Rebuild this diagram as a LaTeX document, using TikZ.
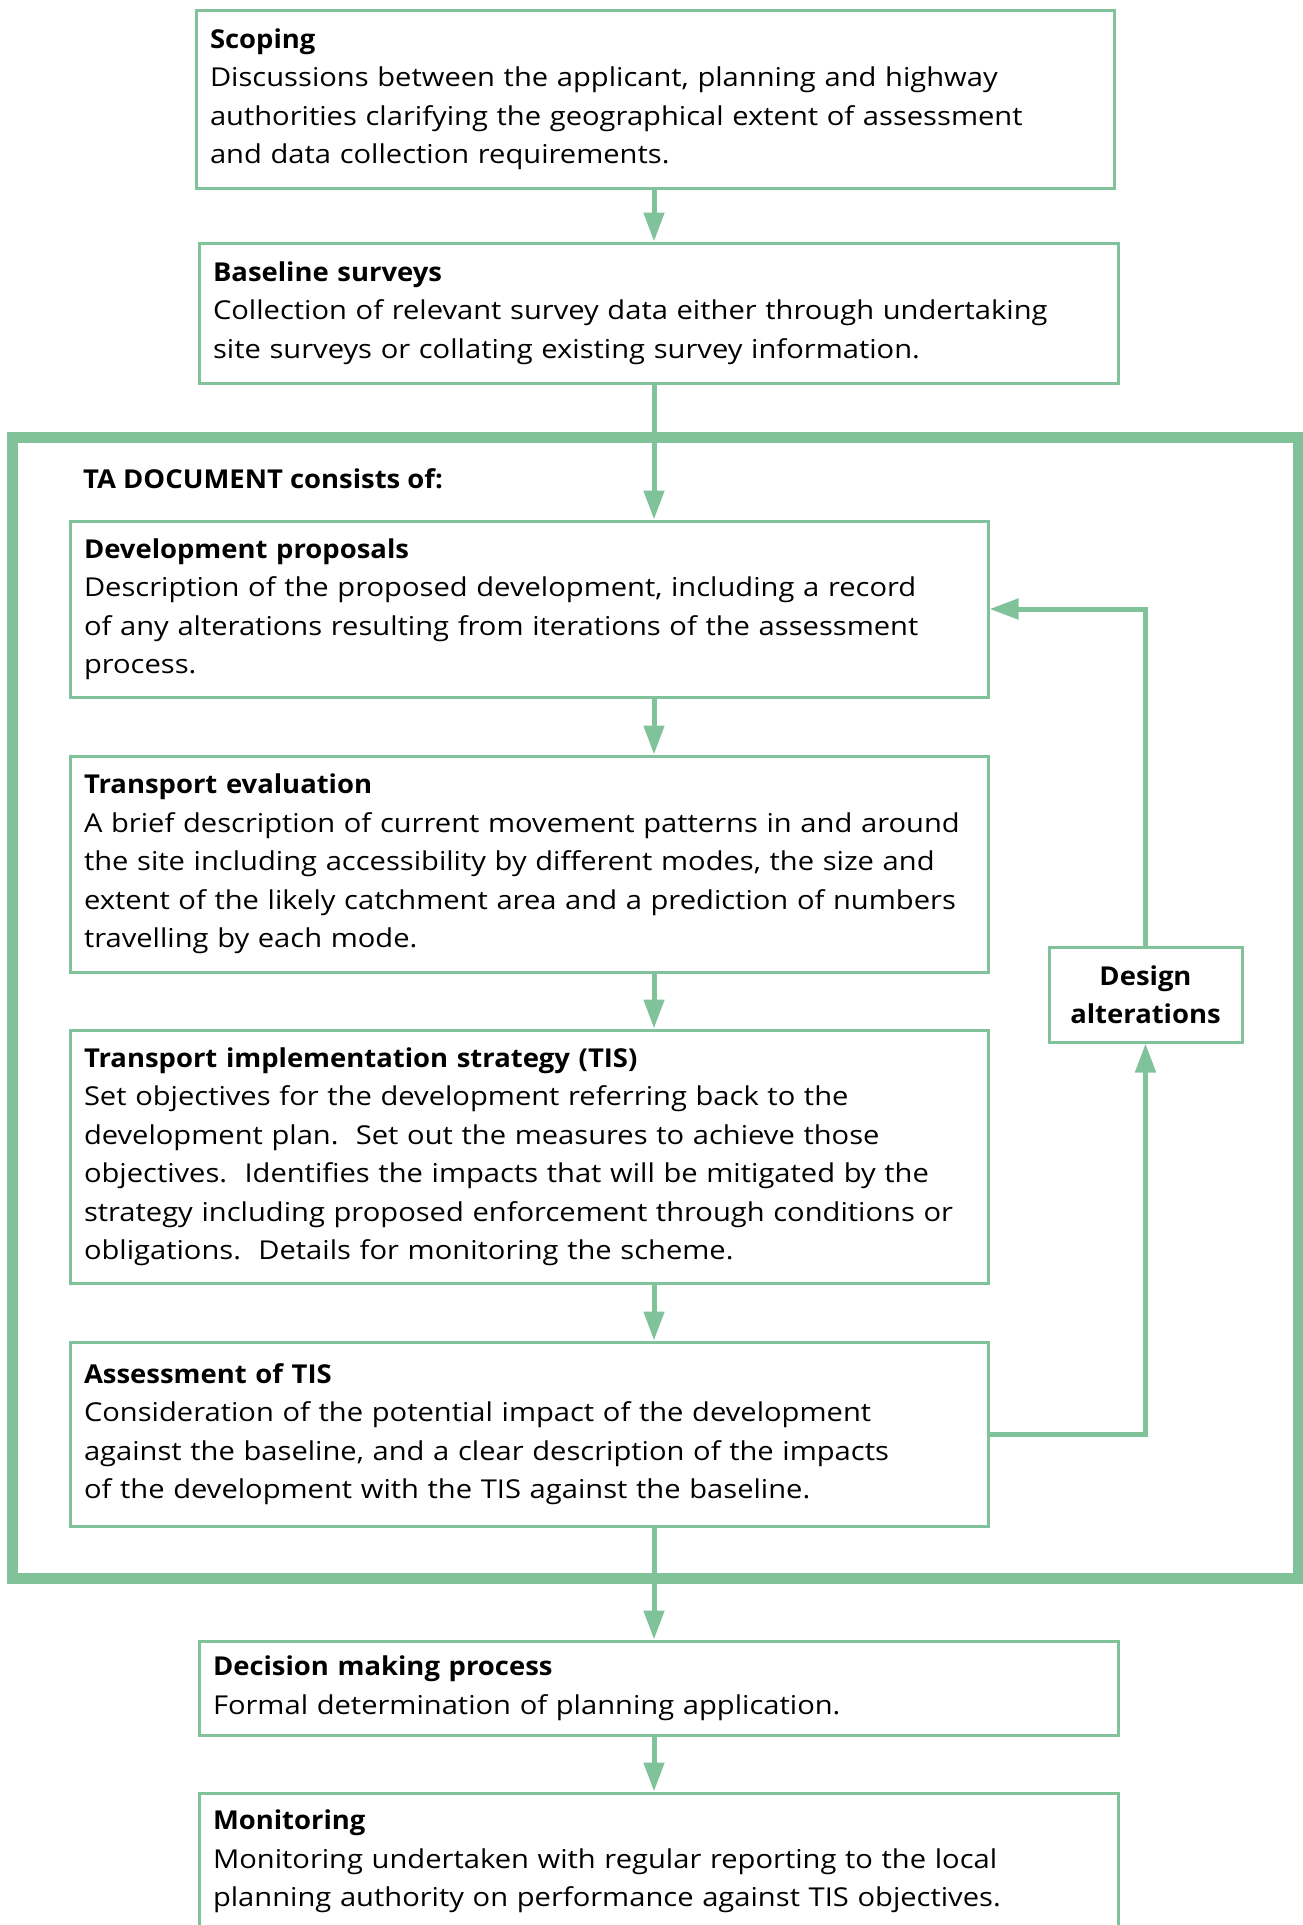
\documentclass[tikz,border=0pt]{standalone}
\usepackage{fontspec}
\setmainfont{Open Sans}[FakeStretch=1.12, BoldFeatures={FakeStretch=1.055}]
\usetikzlibrary{arrows.meta}
\definecolor{tagreen}{RGB}{128,195,155}
\begin{document}
\begin{tikzpicture}[x=1pt,y=-1pt,
  every node/.style={font=\fontsize{26}{38.5}\selectfont},
  box/.style={draw=tagreen, line width=3pt, anchor=north west, inner xsep=14pt, inner ysep=0pt, align=left},
  flow/.style={draw=tagreen, line width=5pt, -{Triangle[length=29pt,width=20pt]}},
  frame/.style={draw=tagreen, line width=11pt}
]
\useasboundingbox (0,0) rectangle (1302,1925);
\coordinate (cx) at (654,0);

% TA document frame
\draw[frame] (12.5,437.5) rectangle (1298.5,1578);
\node[anchor=west, inner sep=0pt, font=\fontsize{26}{38.5}\selectfont\bfseries] (talabel) at (83,479) {TA DOCUMENT consists of:};

% boxes: anchor at (x1+1.5, y1+1.5), size (W-3) x (H-3)
\node[box, minimum width=918pt, minimum height=178pt, text width=890pt] (scoping) at (194.5,8.5)
 {\textbf{Scoping}\\
  Discussions between the applicant, planning and highway\\
  authorities clarifying the geographical extent of assessment\\
  and data collection requirements.};

\node[box, minimum width=919pt, minimum height=140pt, text width=891pt] (baseline) at (197.5,241.5)
 {\textbf{Baseline surveys}\\
  Collection of relevant survey data either through undertaking\\
  site surveys or collating existing survey information.};

\node[box, minimum width=918pt, minimum height=176pt, text width=890pt] (dev) at (68.5,519.5)
 {\textbf{Development proposals}\\
  Description of the proposed development, including a record\\
  of any alterations resulting from iterations of the assessment\\
  process.};

\node[box, minimum width=918pt, minimum height=216pt, text width=890pt] (te) at (68.5,754.5)
 {\textbf{Transport evaluation}\\
  A brief description of current movement patterns in and around\\
  the site including accessibility by different modes, the size and\\
  extent of the likely catchment area and a prediction of numbers\\
  travelling by each mode.};

\node[box, minimum width=918pt, minimum height=253pt, text width=890pt] (tis) at (68.5,1028.5)
 {\textbf{Transport implementation strategy (TIS)}\\
  Set objectives for the development referring back to the\\
  development plan.\ \ Set out the measures to achieve those\\
  objectives.\ \ Identifies the impacts that will be mitigated by the\\
  strategy including proposed enforcement through conditions or\\
  obligations.\ \ Details for monitoring the scheme.};

\node[box, minimum width=918pt, minimum height=184pt, text width=890pt] (assess) at (68.5,1340.5)
 {\textbf{Assessment of TIS}\\
  Consideration of the potential impact of the development\\
  against the baseline, and a clear description of the impacts\\
  of the development with the TIS against the baseline.};

\node[box, minimum width=193pt, minimum height=95pt, align=center, inner xsep=0pt, font=\fontsize{26}{38.5}\selectfont\bfseries] (design) at (1047.5,945.5)
 {Design\\alterations};

\node[box, minimum width=919pt, minimum height=94pt, text width=891pt] (decision) at (197.5,1639.5)
 {\textbf{Decision making process}\\
  Formal determination of planning application.};

\node[box, minimum width=919pt, minimum height=137pt, text width=891pt] (monitoring) at (197.5,1791.5)
 {\textbf{Monitoring}\\
  Monitoring undertaken with regular reporting to the local\\
  planning authority on performance against TIS objectives.};

% connectors
\draw[flow] (scoping.south -| cx) -- (baseline.north -| cx);
\draw[flow] (baseline.south -| cx) -- (dev.north -| cx);
\draw[flow] (dev.south -| cx) -- (te.north -| cx);
\draw[flow] (te.south -| cx) -- (tis.north -| cx);
\draw[flow] (tis.south -| cx) -- (assess.north -| cx);
\draw[flow] (assess.south -| cx) -- (decision.north -| cx);
\draw[flow] (decision.south -| cx) -- (monitoring.north -| cx);
\draw[flow] (assess.east) -| (design.south);
\draw[flow] (design.north) |- (dev.east);
\end{tikzpicture}
\end{document}
